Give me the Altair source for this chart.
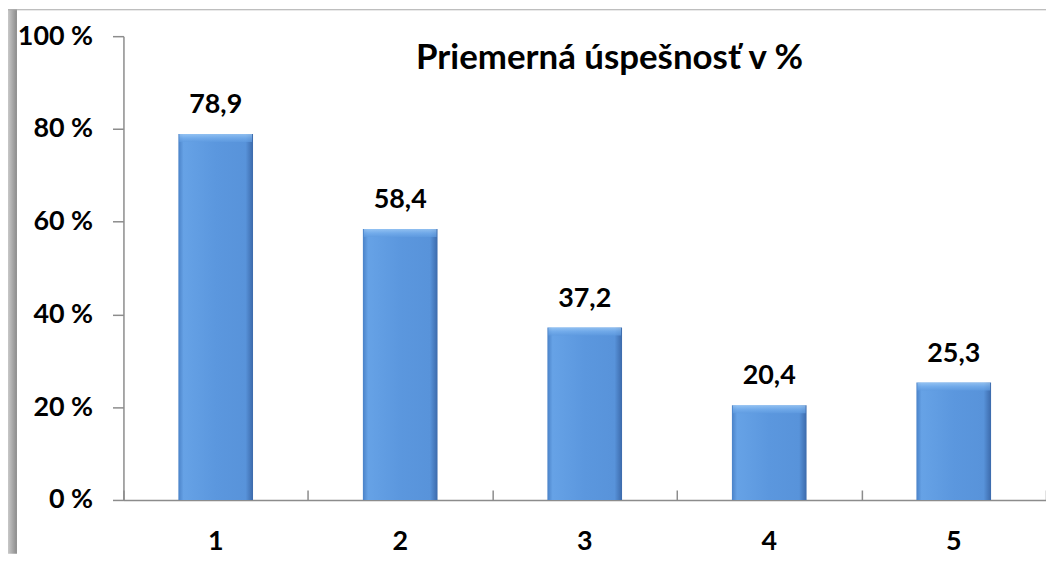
import altair as alt
import pandas as pd

categories = ["1", "2", "3", "4", "5"]
values = [78.9, 58.4, 37.2, 20.4, 25.3]
y_ticks = [0, 20, 40, 60, 80, 100]
title_text = "Priemerná úspešnosť v %"

df = pd.DataFrame({"cat": categories, "val": values})

W, H = 927, 466
FONT = "Lato"
AXIS_GRAY = "#8c8c8c"

y_scale = alt.Scale(domain=[0, 100], nice=False)

base = alt.Chart(df)

bars = base.mark_bar(
    size=75,
    color=alt.Gradient(
        gradient="linear", x1=0, x2=1, y1=0, y2=0,
        stops=[
            alt.GradientStop(color="#4a82c8", offset=0),
            alt.GradientStop(color="#66a2e6", offset=0.07),
            alt.GradientStop(color="#5b97de", offset=0.5),
            alt.GradientStop(color="#5893da", offset=0.9),
            alt.GradientStop(color="#3c6aab", offset=1),
        ],
    ),
).encode(
    x=alt.X("cat:N", sort=categories,
            scale=alt.Scale(paddingInner=0, paddingOuter=0),
            axis=alt.Axis(title=None, orient="bottom", domain=True,
                          domainColor=AXIS_GRAY, domainWidth=1.5,
                          ticks=False, labelAngle=0,
                          labelFont=FONT, labelFontSize=27,
                          labelFontWeight="bold", labelColor="#000000",
                          labelBaseline="alphabetic", labelPadding=50)),
    y=alt.Y("val:Q", scale=y_scale,
            axis=alt.Axis(title=None, values=y_ticks, grid=False,
                          domain=True, domainColor=AXIS_GRAY, domainWidth=1.5,
                          ticks=True, tickColor=AXIS_GRAY, tickWidth=1.5,
                          tickSize=11, labelPadding=20,
                          labelExpr="datum.value + ' %'",
                          labelFont=FONT, labelFontSize=27,
                          labelFontWeight="bold", labelColor="#000000")),
)

bevel = base.mark_tick(
    size=73, thickness=8, yOffset=4,
    color=alt.Gradient(
        gradient="linear", x1=0, x2=0, y1=0, y2=1,
        stops=[
            alt.GradientStop(color="#a6d0f8", offset=0),
            alt.GradientStop(color="#79b1ee", offset=0.5),
            alt.GradientStop(color="#5f9be0", offset=1),
        ],
    ),
).encode(
    x=alt.X("cat:N", sort=categories,
            scale=alt.Scale(paddingInner=0, paddingOuter=0),
            axis=alt.Axis(title=None, orient="top", offset=-H,
                          domain=False, labels=False, ticks=True,
                          tickBand="extent", tickSize=10,
                          tickColor=AXIS_GRAY, tickWidth=1.5)),
    y=alt.Y("val:Q", scale=y_scale),
)

labels = base.transform_calculate(
    lab="replace(format(datum.val, '.1f'), '.', ',')"
).mark_text(
    font=FONT, fontSize=27, fontWeight="bold", color="#000000",
    baseline="alphabetic", dy=-21,
).encode(
    x=alt.X("cat:N", sort=categories, axis=None),
    y=alt.Y("val:Q", scale=y_scale),
    text="lab:N",
)

frame_df = pd.DataFrame({"k": [0]})
frame_left = alt.Chart(frame_df).mark_rect(
    color=alt.Gradient(
        gradient="linear", x1=0, x2=1, y1=0, y2=0,
        stops=[
            alt.GradientStop(color="#c8c8c8", offset=0),
            alt.GradientStop(color="#8a8a8a", offset=1),
        ],
    ),
).encode(
    x=alt.value(-116), x2=alt.value(-107),
    y=alt.value(-27), y2=alt.value(H + 54),
)
frame_top = alt.Chart(frame_df).mark_rect(color="#a8a8a8").encode(
    x=alt.value(-116), x2=alt.value(W),
    y=alt.value(-27), y2=alt.value(-26),
)

chart = alt.layer(bars, bevel, labels, frame_left, frame_top).resolve_axis(
    x="independent"
).properties(
    width=W, height=H,
    autosize=alt.AutoSizeParams(type="none"),
    padding={"left": 116, "top": 27, "right": 0, "bottom": 54},
    title=alt.TitleParams(
        text=title_text, anchor="start", frame="group",
        font=FONT, fontSize=35, fontWeight="bold", color="#000000",
        baseline="alphabetic", orient="top", offset=0, dx=294, dy=95,
    ),
).configure_view(stroke=None)

chart.save("out.html", embed_options={"renderer": "svg", "actions": False})
